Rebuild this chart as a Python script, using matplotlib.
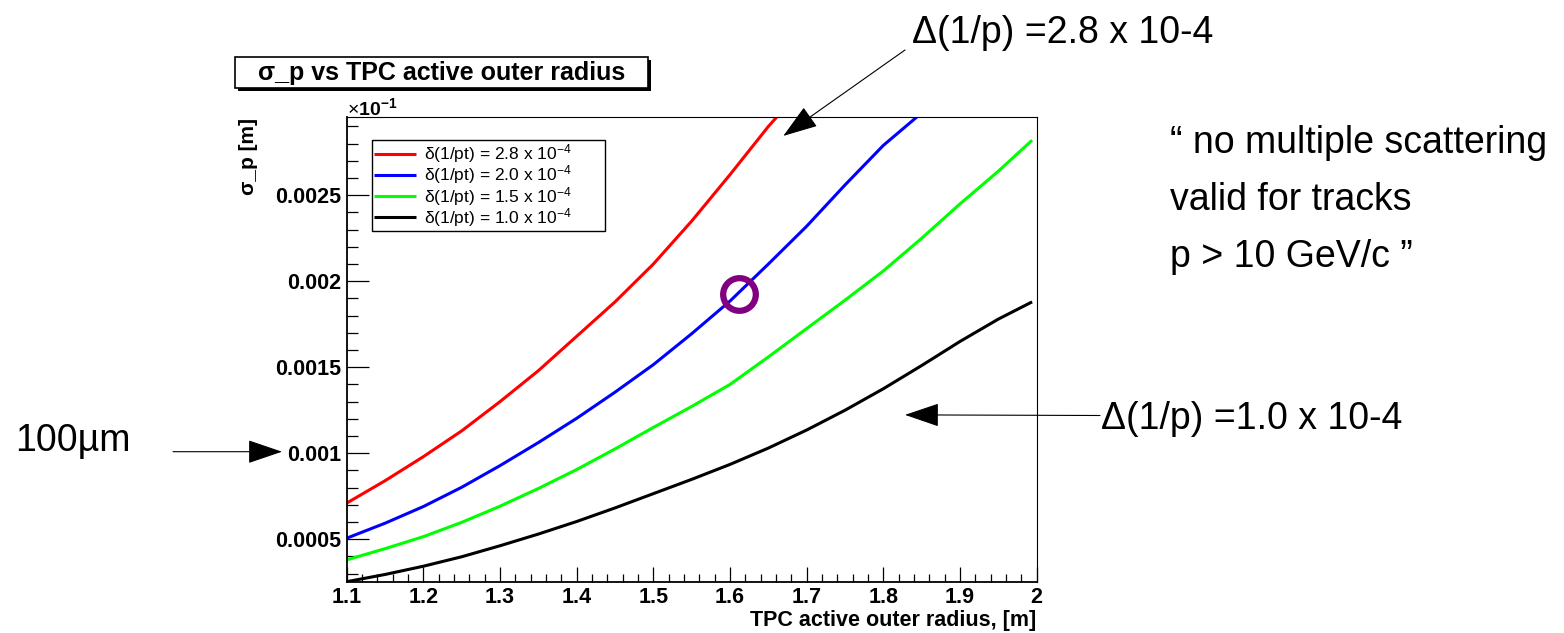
import numpy as np
import matplotlib
matplotlib.use("Agg")
import matplotlib.pyplot as plt
from matplotlib.patches import Rectangle
from matplotlib.ticker import MultipleLocator

plt.rcParams['font.family'] = ['Liberation Sans', 'DejaVu Sans']
plt.rcParams['mathtext.fontset'] = 'custom'
plt.rcParams['mathtext.rm'] = 'Liberation Sans'
plt.rcParams['mathtext.it'] = 'Liberation Sans:italic'
plt.rcParams['mathtext.bf'] = 'Liberation Sans:bold'

# sigma_p vs outer radius for the four momentum resolutions
r_28 = [1.1, 1.15, 1.2, 1.25, 1.3, 1.35, 1.4, 1.45, 1.5, 1.55, 1.6, 1.65, 1.662]
s_28 = [0.00071, 0.00084, 0.00098, 0.00113, 0.0013, 0.00148, 0.00168, 0.00188,
        0.0021, 0.00235, 0.00262, 0.0029, 0.00296]

r_20 = [1.1, 1.15, 1.2, 1.25, 1.3, 1.35, 1.4, 1.45, 1.5, 1.55, 1.6, 1.65, 1.7,
        1.75, 1.8, 1.845]
s_20 = [0.000506, 0.000593, 0.00069, 0.000802, 0.000928, 0.001062, 0.001203, 0.001355,
        0.001515, 0.001695, 0.001885, 0.0021, 0.00232, 0.00256, 0.00279, 0.00296]

r_15 = [1.1, 1.15, 1.2, 1.25, 1.3, 1.35, 1.4, 1.45, 1.5, 1.55, 1.6, 1.65, 1.7,
        1.75, 1.8, 1.85, 1.9, 1.95, 1.994]
s_15 = [0.00038, 0.000445, 0.000515, 0.000598, 0.000692, 0.000795, 0.000905, 0.001025,
        0.00115, 0.001272, 0.0014, 0.00156, 0.001725, 0.00189, 0.00206, 0.00225,
        0.00245, 0.00264, 0.00282]

r_10 = [1.1, 1.15, 1.2, 1.25, 1.3, 1.35, 1.4, 1.45, 1.5, 1.55, 1.6, 1.65, 1.7,
        1.75, 1.8, 1.85, 1.9, 1.95, 1.994]
s_10 = [0.000253, 0.000295, 0.000343, 0.000398, 0.000462, 0.00053, 0.000603, 0.000682,
        0.000765, 0.000848, 0.000935, 0.00103, 0.001135, 0.00125, 0.001375, 0.00151,
        0.00165, 0.00178, 0.00188]

labels = [r'δ(1/pt) = 2.8 x 10$^{-4}$', r'δ(1/pt) = 2.0 x 10$^{-4}$',
          r'δ(1/pt) = 1.5 x 10$^{-4}$', r'δ(1/pt) = 1.0 x 10$^{-4}$']
colors = ['#FF0000', '#0000FF', '#00FF00', '#000000']

xticks = [1.1, 1.2, 1.3, 1.4, 1.5, 1.6, 1.7, 1.8, 1.9, 2.0]
xticklabels = ['1.1', '1.2', '1.3', '1.4', '1.5', '1.6', '1.7', '1.8', '1.9', '2']
yticks = [0.0005, 0.001, 0.0015, 0.002, 0.0025]
yticklabels = ['0.0005', '0.001', '0.0015', '0.002', '0.0025']

working_point = (1.6117, 0.001924)

W, H = 1564, 633
def fx(px):
    return px / W
def fy(py):
    return 1 - py / H

fig = plt.figure(figsize=(W / 100, H / 100), dpi=100)
ax = fig.add_axes([fx(346.7), fy(581.7), 690 / W, 464.7 / H])

lines = []
for r, s, c in zip([r_28, r_20, r_15, r_10], [s_28, s_20, s_15, s_10], colors):
    ln, = ax.plot(r, s, color=c, lw=2.2, solid_capstyle='butt', solid_joinstyle='round')
    lines.append(ln)

ax.plot([working_point[0]], [working_point[1]], 'o', ms=23.5, mfc='none',
        mec='#800080', mew=4.5, zorder=5)

ax.set_xlim(1.1, 2.0)
ax.set_ylim(0.000253, 0.002955)

ax.set_xticks(xticks)
ax.set_xticklabels(xticklabels)
ax.xaxis.set_minor_locator(MultipleLocator(0.02))
ax.set_yticks(yticks)
ax.set_yticklabels(yticklabels)
ax.yaxis.set_minor_locator(MultipleLocator(0.0001))

for lab in ax.get_xticklabels() + ax.get_yticklabels():
    lab.set_fontweight('bold')
ax.tick_params(direction='in', top=False, right=False, labelsize=15.5, width=0.9)
ax.tick_params(axis='x', which='major', length=10.5, pad=4)
ax.tick_params(axis='x', which='minor', length=5.5, width=0.9, direction='in')
ax.tick_params(axis='y', which='major', length=15.5, pad=4)
ax.tick_params(axis='y', which='minor', length=8, width=0.9, direction='in')

ax.spines['left'].set_linewidth(1.3)
ax.spines['bottom'].set_linewidth(1.3)
ax.spines['top'].set_linewidth(0.8)
ax.spines['right'].set_linewidth(0.8)

leg = ax.legend(lines, labels, loc='upper left',
                bbox_to_anchor=(0.0367, 0.763, 0.337, 0.187), mode='expand',
                fontsize=12.5, frameon=True, fancybox=False, framealpha=1,
                edgecolor='black', handlelength=2.4, handletextpad=0.5,
                borderpad=0.12, labelspacing=-0.1, borderaxespad=0)
leg.get_frame().set_linewidth(1.0)

# axis titles, ROOT style
fig.text(fx(1036), fy(626), 'TPC active outer radius, [m]', ha='right',
         va='baseline', fontsize=15.5, fontweight='bold')
fig.text(fx(248), fy(118), 'σ_p [m]', rotation=90, ha='center', va='top',
         fontsize=15, fontweight='bold')
fig.text(fx(347), fy(115), r'$\times\mathbf{10^{-1}}$', ha='left',
         va='baseline', fontsize=14)

# title pave with shadow
fig.add_artist(Rectangle((fx(238), fy(91)), 413 / W, 31 / H, transform=fig.transFigure,
                         facecolor='black', edgecolor='black', lw=0))
fig.add_artist(Rectangle((fx(235), fy(88)), 413 / W, 31 / H, transform=fig.transFigure,
                         facecolor='white', edgecolor='black', lw=1.2))
fig.text(fx(441.5), fy(73), 'σ_p vs TPC active outer radius', ha='center',
         va='center', fontsize=18, fontweight='bold')

# annotations
big = 27
fig.text(fx(912), fy(43), 'Δ(1/p) =2.8 x 10-4', fontsize=big, va='baseline')
fig.text(fx(1101), fy(429), 'Δ(1/p) =1.0 x 10-4', fontsize=big, va='baseline')
fig.text(fx(15), fy(451), '100µm', fontsize=big, va='baseline')
quote = ['“ no multiple scattering', 'valid for tracks', 'p > 10 GeV/c ”']
for i, line in enumerate(quote):
    fig.text(fx(1170), fy(153 + 57 * i), line, fontsize=big, va='baseline')

arrow = dict(arrowstyle='-|>,head_length=22,head_width=7.5', mutation_scale=1,
             color='black', lw=0.8, shrinkA=0, shrinkB=0)
ax.annotate('', xy=(1.6695, 0.002845), xycoords='data',
            xytext=(905, H - 50), textcoords='figure pixels',
            arrowprops=arrow, annotation_clip=False)
ax.annotate('', xy=(1.8282, 0.001223), xycoords='data',
            xytext=(1100, H - 415.5), textcoords='figure pixels',
            arrowprops=arrow, annotation_clip=False)
ax.annotate('', xy=(282, H - 451.7), xycoords='figure pixels',
            xytext=(173, H - 451.7), textcoords='figure pixels',
            arrowprops=arrow, annotation_clip=False)

fig.savefig('out.png', dpi=100, facecolor='white')
